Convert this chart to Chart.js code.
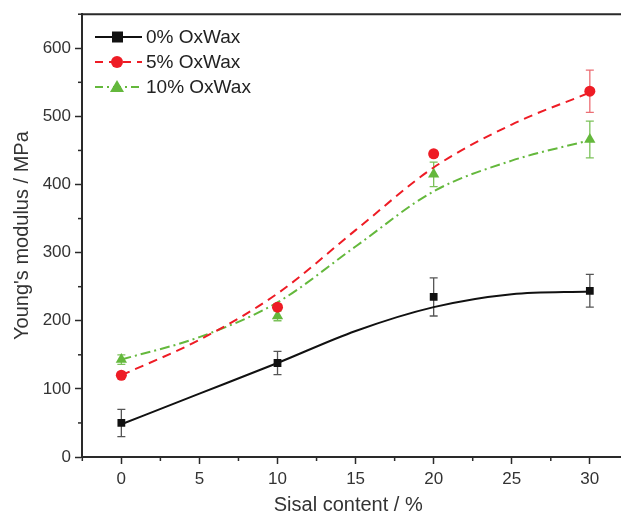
<!DOCTYPE html>
<html>
<head>
<meta charset="utf-8">
<script src="https://cdn.jsdelivr.net/npm/chart.js@4"></script>
<style>
  html, body { margin: 0; padding: 0; background: #fff; }
  #wrap { width: 621px; height: 517px; }
</style>
</head>
<body>
<div id="wrap"><canvas id="grafico" width="621" height="517"></canvas></div>
<script>
// measured points (sisal content %, modulus MPa, error)
const conteudo = [0, 10, 20, 30];
const oxwax0 = [50, 138, 235, 244];
const erro0 = [20, 17, 28, 24];
const oxwax5 = [120, 220, 445, 537];
const erro5 = [3, 4, 5, 31];
const oxwax10 = [143, 207, 415, 466];
const erro10 = [7, 7, 18, 27];

// fitted curves
const curvaX = [0, 5, 10, 15, 20, 25, 30];
const curva0 = [48, 93, 138, 185, 220, 239, 243];
const curva5 = [120, 172, 240, 333, 425, 488, 535];
const curva10 = [143, 176, 227, 309, 390, 435, 465];

const xTicks = [0, 5, 10, 15, 20, 25, 30];
const yTicks = [0, 100, 200, 300, 400, 500, 600];

const preto = '#111111';
const vermelho = '#ee1c25';
const verde = '#64b83c';
const eixo = '#2a2a2a';
const fonte = '"Liberation Sans", Arial, sans-serif';

const series = [
  { label: '0% OxWax', y: oxwax0, err: erro0, curva: curva0, cor: preto, corErro: '#555555', dash: [], ponto: 'rect', raio: 5.5 },
  { label: '5% OxWax', y: oxwax5, err: erro5, curva: curva5, cor: vermelho, corErro: '#ec6e74', dash: [9, 6], ponto: 'circle', raio: 5.5 },
  { label: '10% OxWax', y: oxwax10, err: erro10, curva: curva10, cor: verde, corErro: '#7cc25a', dash: [10, 4, 2, 4], ponto: 'triangle', raio: 6.5 }
];

const datasets = [];
series.forEach(s => {
  datasets.push({
    label: s.label + ' fit',
    data: curvaX.map((x, i) => ({ x: x, y: s.curva[i] })),
    borderColor: s.cor,
    borderWidth: 2,
    borderDash: s.dash,
    pointRadius: 0,
    cubicInterpolationMode: 'monotone',
    fill: false,
    showLine: true
  });
  datasets.push({
    label: s.label,
    data: conteudo.map((x, i) => ({ x: x, y: s.y[i] })),
    erros: s.err,
    corErro: s.corErro,
    showLine: false,
    pointStyle: s.ponto,
    pointRadius: s.raio,
    backgroundColor: s.cor,
    borderColor: s.cor,
    borderWidth: 0
  });
});

// error bars through the scales
const barrasErro = {
  id: 'barrasErro',
  beforeDatasetsDraw(chart) {
    const ctx = chart.ctx;
    const sx = chart.scales.x, sy = chart.scales.y;
    chart.data.datasets.forEach(ds => {
      if (!ds.erros) return;
      ctx.save();
      ctx.strokeStyle = ds.corErro;
      ctx.lineWidth = 1.3;
      ds.data.forEach((p, i) => {
        const px = sx.getPixelForValue(p.x);
        const y1 = sy.getPixelForValue(p.y + ds.erros[i]);
        const y2 = sy.getPixelForValue(p.y - ds.erros[i]);
        ctx.beginPath();
        ctx.moveTo(px, y1); ctx.lineTo(px, y2);
        ctx.moveTo(px - 4, y1); ctx.lineTo(px + 4, y1);
        ctx.moveTo(px - 4, y2); ctx.lineTo(px + 4, y2);
        ctx.stroke();
      });
      ctx.restore();
    });
  }
};

// top frame line, minor ticks and legend
const moldura = {
  id: 'moldura',
  afterDraw(chart) {
    const ctx = chart.ctx;
    const a = chart.chartArea;
    const sx = chart.scales.x, sy = chart.scales.y;
    ctx.save();
    ctx.strokeStyle = eixo;
    ctx.lineWidth = 2;
    ctx.beginPath();
    ctx.moveTo(a.left - 1, a.top);
    ctx.lineTo(chart.width, a.top);
    ctx.moveTo(a.right - 1, a.bottom);
    ctx.lineTo(chart.width, a.bottom);
    ctx.stroke();
    ctx.lineWidth = 1.5;
    for (let v = -2.5; v <= 32; v += 5) {
      const px = sx.getPixelForValue(v);
      if (px < a.left || px > chart.width) continue;
      ctx.beginPath();
      ctx.moveTo(px, a.bottom); ctx.lineTo(px, a.bottom + 4);
      ctx.stroke();
    }
    for (let v = 50; v <= 650; v += 100) {
      const py = sy.getPixelForValue(v);
      ctx.beginPath();
      ctx.moveTo(a.left, py); ctx.lineTo(a.left - 4, py);
      ctx.stroke();
    }
    // legend
    ctx.font = '19px ' + fonte;
    ctx.textBaseline = 'middle';
    series.forEach((s, i) => {
      const y = 37 + i * 25;
      ctx.strokeStyle = s.cor;
      ctx.lineWidth = 2;
      ctx.setLineDash(s.dash.length ? (i === 1 ? [8, 6] : [8, 4, 2, 4]) : []);
      ctx.beginPath();
      ctx.moveTo(95, y); ctx.lineTo(142, y);
      ctx.stroke();
      ctx.setLineDash([]);
      ctx.fillStyle = s.cor;
      ctx.beginPath();
      if (s.ponto === 'rect') ctx.rect(112, y - 5.5, 11, 11);
      else if (s.ponto === 'circle') ctx.arc(117, y, 6, 0, Math.PI * 2);
      else { ctx.moveTo(117, y - 7); ctx.lineTo(124, y + 5); ctx.lineTo(110, y + 5); ctx.closePath(); }
      ctx.fill();
      ctx.fillStyle = '#222';
      ctx.fillText(s.label, 146, y + 1);
    });
    ctx.restore();
  }
};

new Chart(document.getElementById('grafico').getContext('2d'), {
  type: 'scatter',
  data: { datasets: datasets },
  plugins: [barrasErro, moldura],
  options: {
    responsive: false,
    animation: false,
    layout: { padding: { top: 13, right: 0, left: 0, bottom: 0 } },
    plugins: { legend: { display: false }, tooltip: { enabled: false } },
    scales: {
      x: {
        type: 'linear',
        min: -2.52,
        max: 31.58,
        afterBuildTicks: s => { s.ticks = xTicks.map(v => ({ value: v })); },
        afterFit: s => { s.height = 60; },
        border: { display: true, color: eixo, width: 2 },
        grid: { drawOnChartArea: false, tickLength: 7, tickWidth: 1.5, tickColor: eixo },
        ticks: { color: '#333', font: { size: 17, family: fonte }, padding: 5, maxRotation: 0 },
        title: { display: true, text: 'Sisal content / %', color: '#333', font: { size: 20, family: fonte }, padding: { top: 6, bottom: 0 } }
      },
      y: {
        type: 'linear',
        min: 0,
        max: 650,
        afterBuildTicks: s => { s.ticks = yTicks.map(v => ({ value: v })); },
        afterFit: s => { s.width = 82; },
        border: { display: true, color: eixo, width: 2 },
        grid: { drawOnChartArea: false, tickLength: 7, tickWidth: 1.5, tickColor: eixo },
        ticks: { color: '#333', font: { size: 17, family: fonte }, padding: 4 },
        title: { display: true, text: "Young's modulus / MPa", color: '#333', font: { size: 20, family: fonte }, padding: { top: 10, bottom: 2 } }
      }
    }
  }
});
</script>
</body>
</html>
